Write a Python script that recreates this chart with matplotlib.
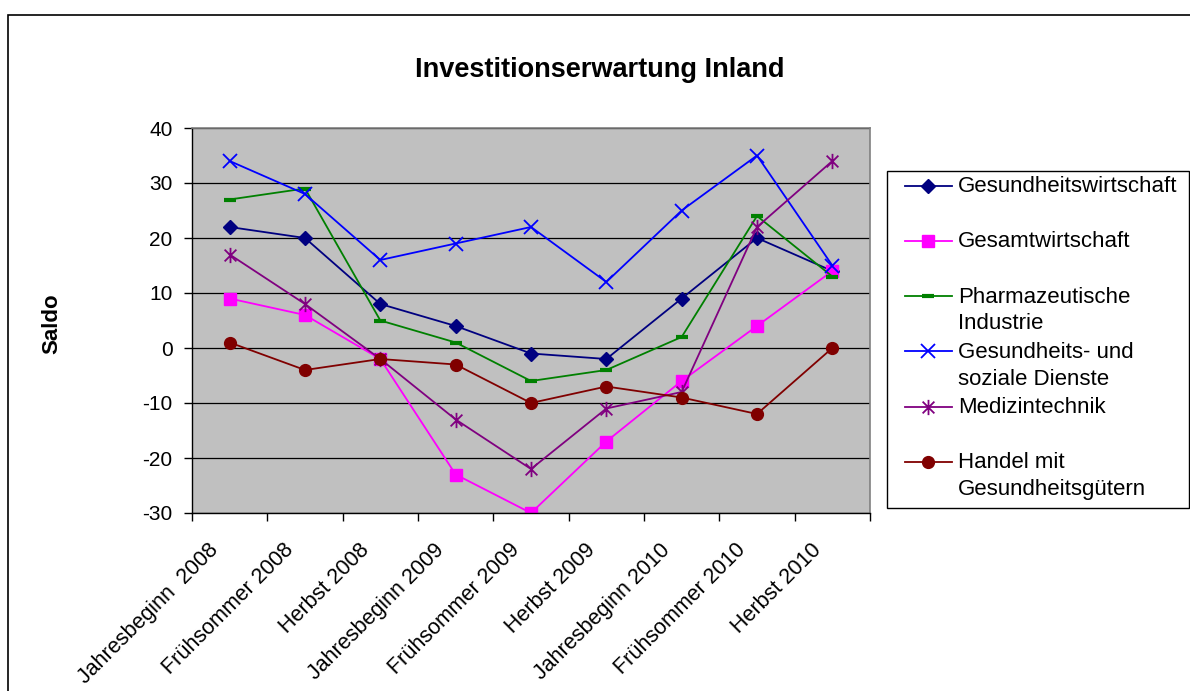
import numpy as np
import matplotlib
matplotlib.use("Agg")
import matplotlib.pyplot as plt
from matplotlib.path import Path
from matplotlib.patches import Rectangle
from matplotlib.legend_handler import HandlerLine2D
from matplotlib.transforms import ScaledTranslation

plt.rcParams['font.family'] = ['Liberation Sans', 'DejaVu Sans']
plt.rcParams['axes.unicode_minus'] = False

# survey waves (x categories)
waves = ["Jahresbeginn  2008", "Frühsommer 2008", "Herbst 2008",
         "Jahresbeginn 2009", "Frühsommer 2009", "Herbst 2009",
         "Jahresbeginn 2010", "Frühsommer 2010", "Herbst 2010"]

# Saldo per branch
gesundheitswirtschaft = [22, 20, 8, 4, -1, -2, 9, 20, 14]
gesamtwirtschaft = [9, 6, -2, -23, -30, -17, -6, 4, 14]
pharma = [27, 29, 5, 1, -6, -4, 2, 24, 13]
soziale_dienste = [34, 28, 16, 19, 22, 12, 25, 35, 15]
medizintechnik = [17, 8, -2, -13, -22, -11, -8, 22, 34]
handel = [1, -4, -2, -3, -10, -7, -9, -12, 0]

# excel style asterisk: x plus vertical bar
star_path = Path([(-1, -1), (1, 1), (-1, 1), (1, -1), (0, -1.3), (0, 1.3)],
                 [Path.MOVETO, Path.LINETO, Path.MOVETO, Path.LINETO, Path.MOVETO, Path.LINETO])

series = [
    ("Gesundheitswirtschaft", gesundheitswirtschaft, "#000080", "D", 7.5, 1),
    ("Gesamtwirtschaft", gesamtwirtschaft, "#FF00FF", "s", 8, 1),
    ("Pharmazeutische\nIndustrie", pharma, "#008000", "_", 9, 3),
    ("Gesundheits- und\nsoziale Dienste", soziale_dienste, "#0000FF", "x", 10, 1.3),
    ("Medizintechnik", medizintechnik, "#800080", star_path, 11, 1.3),
    ("Handel mit\nGesundheitsgütern", handel, "#800000", "o", 8.5, 1),
]


class FirstLineHandler(HandlerLine2D):
    # put the legend sample next to the first text line
    lift = 10.5

    def create_artists(self, legend, orig_handle, xdescent, ydescent, width, height, fontsize, trans):
        return super().create_artists(legend, orig_handle, xdescent, ydescent - 2 * self.lift,
                                      width, height, fontsize, trans)


W, H = 1190, 691
fig = plt.figure(figsize=(W / 100, H / 100), dpi=100)
ax = fig.add_axes([192 / W, 1 - 513 / H, 678 / W, 385 / H])
ax.set_facecolor("#C0C0C0")

x = np.arange(len(waves))
lines = []
for label, vals, col, mk, ms, mew in series:
    ln, = ax.plot(x, vals, color=col, lw=1.3, marker=mk, markersize=ms,
                  markeredgewidth=mew, markerfacecolor=col, markeredgecolor=col, label=label)
    lines.append(ln)

ax.set_ylim(-30, 40)
ax.set_yticks(np.arange(-30, 41, 10))
ax.set_xlim(-0.5, len(waves) - 0.5)
ax.set_xticks(np.arange(-0.5, len(waves)), [])
ax.set_xticks(x, waves, minor=True, rotation=45, ha='right', fontsize=15.5)
ax.tick_params(axis='x', which='major', direction='out', length=6, width=1, color='black')
ax.tick_params(axis='x', which='minor', length=0, pad=19)
ax.tick_params(axis='y', direction='out', length=6, width=1, pad=8, labelsize=15)
for lab in ax.get_xticklabels(minor=True):
    lab.set_transform(lab.get_transform() + ScaledTranslation(-0.07, 0, fig.dpi_scale_trans))

ax.grid(axis='y', color='black', lw=0.9)
ax.set_axisbelow(True)
for side in ("left", "bottom"):
    ax.spines[side].set_color("black")
    ax.spines[side].set_linewidth(1)
for side in ("top", "right"):
    ax.spines[side].set_color("#808080")
    ax.spines[side].set_linewidth(1.2)

fig.text(600 / W, 1 - 70 / H, "Investitionserwartung Inland", ha='center', va='center',
         fontsize=19.5, fontweight='bold')
fig.text(52 / W, 1 - 324 / H, "Saldo", rotation=90, ha='center', va='center',
         fontsize=16, fontweight='bold')

# legend, single-line entries padded so every entry takes two lines
labels = [s[0] if "\n" in s[0] else s[0] + "\n" for s in series]
leg = fig.legend(lines, labels, loc='upper left', bbox_to_anchor=(905 / W, 1 - 176 / H),
                 frameon=False, fontsize=16, handlelength=2.1, handletextpad=0.27,
                 borderpad=0, borderaxespad=0, labelspacing=0.33,
                 handler_map={matplotlib.lines.Line2D: FirstLineHandler()})
for t in leg.get_texts():
    t.set_linespacing(1.37)
fig.patches.append(Rectangle((887 / W, 1 - 508 / H), 302 / W, 337 / H, transform=fig.transFigure,
                             fill=False, edgecolor='black', lw=1))

# outer chart border
fig.patches.append(Rectangle((7.5 / W, -0.1), 1.2, 1.1 - 14.5 / H, transform=fig.transFigure,
                             fill=False, edgecolor='black', lw=1.2))

fig.savefig("out.png", dpi=100)
